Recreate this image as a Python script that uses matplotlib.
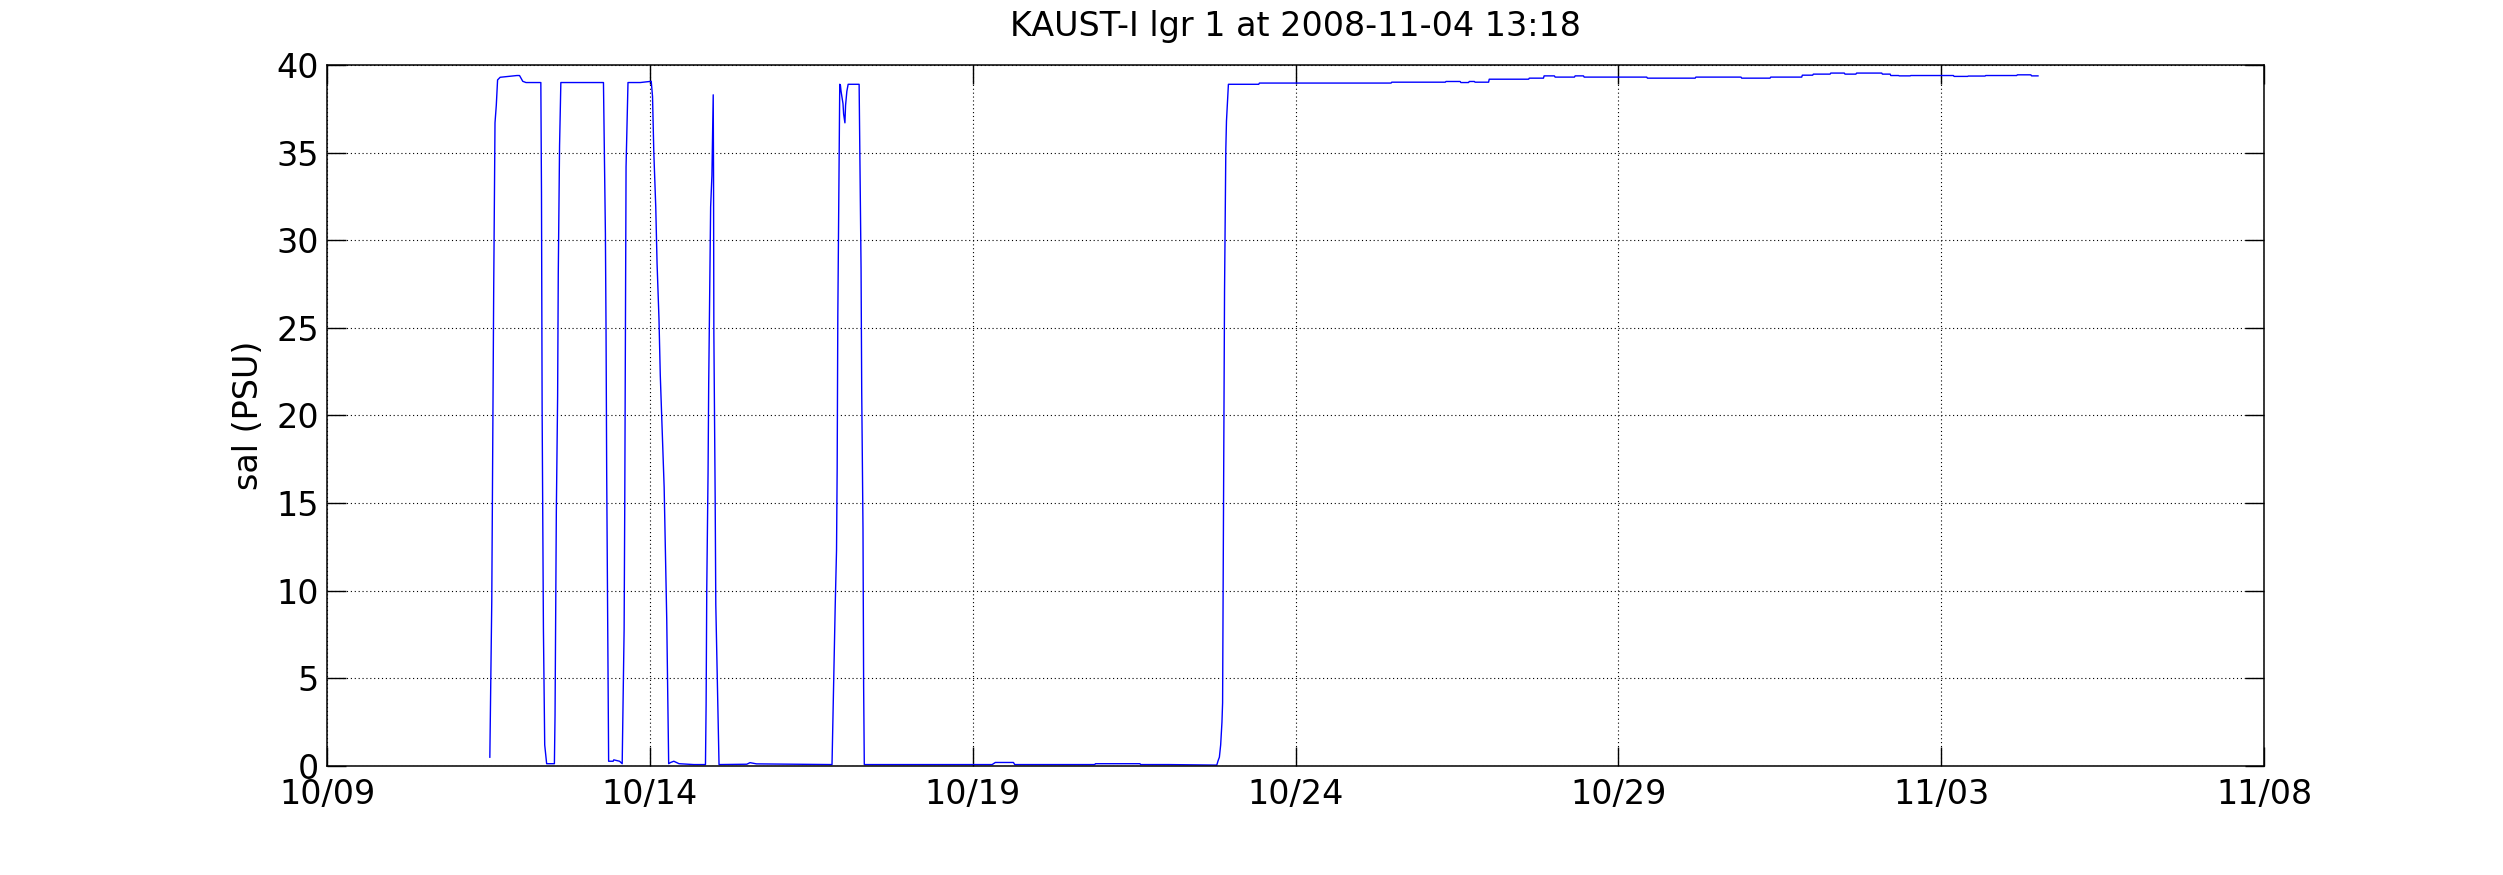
import datetime as dt
import matplotlib
matplotlib.use("Agg")
import matplotlib.pyplot as plt
import matplotlib.dates as mdates

# time in days since 2008-10-09 00:00, salinity in PSU
days = [2.52, 2.55, 2.58, 2.60, 2.62, 2.64, 2.68, 2.94, 2.98, 3.03, 3.08, 3.31,
        3.32, 3.33, 3.35, 3.37, 3.40, 3.52, 3.53, 3.55, 3.57, 3.58, 3.60, 3.62,
        4.28, 4.29, 4.31, 4.32, 4.33, 4.35, 4.36, 4.43, 4.44, 4.53, 4.57, 4.58,
        4.60, 4.61, 4.62, 4.63, 4.66, 4.85, 5.02, 5.04, 5.06, 5.09, 5.11, 5.14,
        5.16, 5.19, 5.22, 5.24, 5.26, 5.28, 5.29, 5.32, 5.37, 5.45, 5.68, 5.86,
        5.87, 5.88, 5.90, 5.91, 5.92, 5.94, 5.96, 5.97, 5.98, 5.985, 5.99, 6.01,
        6.02, 6.04, 6.06, 6.07, 6.50, 6.55, 6.65, 7.82, 7.83, 7.85, 7.87, 7.89,
        7.90, 7.91, 7.93, 7.94, 7.95, 7.96, 7.99, 8.00, 8.02, 8.03, 8.05, 8.07,
        8.24, 8.25, 8.27, 8.28, 8.30, 8.31, 8.32, 10.30, 10.35, 10.63, 10.65, 11.89,
        11.90, 12.59, 12.60, 13.03, 13.78, 13.80, 13.82, 13.84, 13.86, 13.87, 13.88, 13.89,
        13.90, 13.92, 13.93, 13.96, 14.43, 14.44, 16.48, 16.49, 17.32, 17.33, 17.55, 17.56,
        17.68, 17.69, 17.77, 17.78, 17.99, 18.00, 18.61, 18.62, 18.84, 18.85, 19.01, 19.02,
        19.32, 19.33, 19.46, 19.47, 20.44, 20.45, 21.19, 21.20, 21.90, 21.91, 22.35, 22.36,
        22.84, 22.85, 23.01, 23.02, 23.28, 23.29, 23.50, 23.51, 23.68, 23.69, 24.08, 24.09,
        24.21, 24.22, 24.34, 24.35, 24.52, 24.53, 25.19, 25.20, 25.41, 25.42, 25.68, 25.69,
        26.17, 26.18, 26.39, 26.40, 26.50]
sal = [0.5, 9.4, 27.3, 36.7, 37.7, 39.15, 39.3, 39.4, 39.4, 39.07, 39.0, 39.0,
       32.7, 20.3, 7.8, 1.2, 0.13, 0.13, 2.9, 14.5, 21.1, 28.1, 35.4, 39.0,
       39.0, 36.2, 30.4, 24.8, 16.7, 5.6, 0.27, 0.27, 0.35, 0.27, 0.13, 2.65,
       7.8, 15.1, 24.7, 34.2, 39.0, 39.0, 39.07, 38.2, 35.0, 31.9, 28.7, 25.5,
       22.3, 19.1, 15.9, 12.2, 8.4, 2.8, 0.13, 0.2, 0.27, 0.13, 0.08, 0.08,
       3.5, 10.1, 16.7, 21.8, 25.0, 31.9, 33.7, 36.0, 38.3, 33.7, 24.7, 15.4,
       9.2, 5.4, 1.9, 0.08, 0.1, 0.19, 0.12, 0.08, 1.9, 5.4, 9.2, 12.3,
       17.0, 25.7, 34.5, 38.9, 38.85, 38.5, 37.8, 37.2, 36.7, 37.7, 38.5, 38.9,
       38.9, 35.4, 28.4, 21.4, 13.5, 4.5, 0.08, 0.08, 0.2, 0.2, 0.08, 0.08,
       0.13, 0.13, 0.08, 0.08, 0.05, 0.3, 0.5, 1.2, 2.5, 3.6, 11.8, 19.9,
       27.1, 35.2, 36.8, 38.9, 38.9, 38.97, 38.97, 39.02, 39.02, 39.06, 39.06, 39.0,
       39.0, 39.06, 39.06, 39.02, 39.02, 39.19, 39.19, 39.25, 39.25, 39.38, 39.38, 39.31,
       39.31, 39.38, 39.38, 39.31, 39.31, 39.25, 39.25, 39.31, 39.31, 39.25, 39.25, 39.31,
       39.31, 39.42, 39.42, 39.48, 39.48, 39.54, 39.54, 39.48, 39.48, 39.54, 39.54, 39.48,
       39.48, 39.40, 39.40, 39.38, 39.38, 39.40, 39.40, 39.35, 39.35, 39.37, 39.37, 39.40,
       39.40, 39.44, 39.44, 39.38, 39.38]

start = dt.datetime(2008, 10, 9)
x_start = dt.datetime(2008, 10, 9)
x_end = dt.datetime(2008, 11, 8)
tick_dates = [dt.datetime(2008, 10, 9), dt.datetime(2008, 10, 14), dt.datetime(2008, 10, 19),
              dt.datetime(2008, 10, 24), dt.datetime(2008, 10, 29), dt.datetime(2008, 11, 3),
              dt.datetime(2008, 11, 8)]
y_ticks = [0, 5, 10, 15, 20, 25, 30, 35, 40]
title = "KAUST-I lgr 1 at 2008-11-04 13:18"
ylabel = "sal (PSU)"

times = [start + dt.timedelta(days=d) for d in days]

plt.rcParams['font.family'] = ['DejaVu Sans']
fig = plt.figure(figsize=(25.03, 8.75), dpi=100)
ax = fig.add_axes([0.1307, 0.1246, 0.9045 - 0.1307, 0.9257 - 0.1246])

ax.plot(times, sal, color=(0, 0, 1), linewidth=1.0)

ax.set_xlim(x_start, x_end)
ax.set_ylim(0, 40)
ax.set_xticks(tick_dates)
ax.xaxis.set_major_formatter(mdates.DateFormatter('%m/%d'))
ax.set_yticks(y_ticks)

ax.grid(True, color='black', linestyle=(0, (1, 2.5)), linewidth=0.8)
ax.tick_params(direction='in', length=14, width=1.0, labelsize=24,
               top=True, right=True)
ax.tick_params(axis='x', pad=9)
ax.tick_params(axis='y', pad=6)
for s in ax.spines.values():
    s.set_linewidth(1.1)

ax.set_ylabel(ylabel, fontsize=24, labelpad=8)
ax.set_title(title, fontsize=24, pad=21)

fig.savefig("out.png", dpi=100)
